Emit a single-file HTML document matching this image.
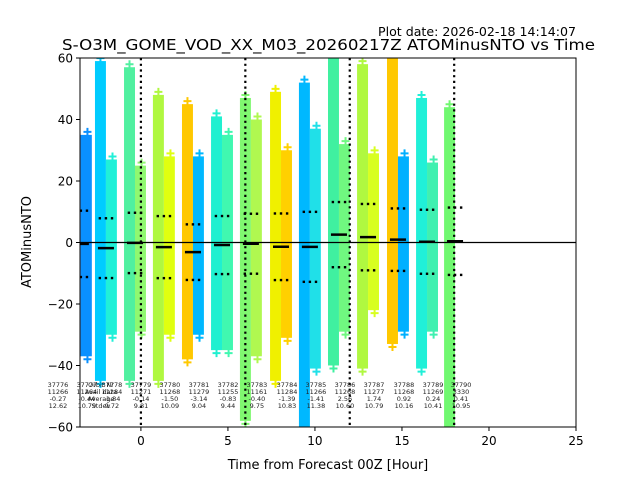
<!DOCTYPE html>
<html><head><meta charset="utf-8"><style>
html,body{margin:0;padding:0;background:#fff;}
svg{display:block;font-family:"DejaVu Sans","Liberation Sans",sans-serif;}
</style></head><body>
<svg id="chart" width="640" height="480" viewBox="0 0 640 480" xmlns="http://www.w3.org/2000/svg">
<defs><clipPath id="plotclip"><rect x="80" y="58" width="496" height="369"/></clipPath></defs>
<rect x="0" y="0" width="640" height="480" fill="#fff"/>
<text x="576" y="36" font-size="12.5" text-anchor="end" textLength="198" lengthAdjust="spacingAndGlyphs">Plot date: 2026-02-18 14:14:07</text>
<text x="62" y="50" font-size="15.5" textLength="533" lengthAdjust="spacingAndGlyphs">S-O3M_GOME_VOD_XX_M03_20260217Z ATOMinusNTO vs Time</text>
<g id="marks" clip-path="url(#plotclip)"></g>
<g id="axes"></g>
<g id="labels"></g>
<text x="328" y="469" font-size="13" text-anchor="middle">Time from Forecast 00Z [Hour]</text>
<text x="31" y="242" font-size="13" text-anchor="middle" transform="rotate(-90 31 242)">ATOMinusNTO</text>
</svg>
<script>
const orbits = ["37776","37777","37778","37779","37780","37781","37782","37783","37784","37785","37786","37787","37788","37789","37790"];
const availData = ["11266","11264","11284","11271","11268","11279","11255","11161","11284","11266","11268","11277","11268","11269","3330"];
const orbitTimes = [-5.11,-3.45,-2.01,-0.34,1.32,2.99,4.66,6.32,8.05,9.71,11.38,13.05,14.77,16.44,18.05];
const averages = [-0.27,-0.44,-1.84,-0.14,-1.50,-3.14,-0.83,-0.40,-1.39,-1.41,2.56,1.74,0.92,0.24,0.41];
const stdevs = [12.62,10.79,9.72,9.81,10.09,9.04,9.44,9.75,10.83,11.38,10.60,10.79,10.16,10.41,10.95];
const leftTop = [30,35,59,57,48,45,41,47,49,52,60,58,60,47,44];
const leftBottom = [-30,-37,-45,-45,-45,-38,-35,-58,-45,-60,-40,-41,-33,-41,-60];
const rightTop = [25,35,27,25,28,28,35,40,30,37,32,29,28,26,0];
const rightBottom = [-25,-37,-30,-29,-30,-30,-35,-37,-31,-41,-29,-22,-29,-29,0];
const leftColors = ["#1070ff","#0a80ff","#00ccff","#50f0a0","#b0f840","#ffc800","#20f0d0","#80f870","#f0f000","#00b8ff","#40f0a0","#b0f840","#ffc800","#20f0d8","#70f870"];
const rightColors = ["#1070ff","#0a90ff","#20f0d8","#90f870","#e0ff10","#00b8ff","#40f8b0","#b0f850","#ffd000","#20e0e8","#70f880","#d8ff20","#00b0ff","#40f0b0","#70f870"];
const xTicks = [0,5,10,15,20,25];
const yTicks = [-60,-40,-20,0,20,40,60];
const forecastLines = [0,6,12,18];

const NS = "http://www.w3.org/2000/svg";
const X0=80, X1=576, Y0=58, Y1=427, XMIN=-3.5, XMAX=25, YMIN=-60, YMAX=60;
function xs(h){return X0+(h-XMIN)*(X1-X0)/(XMAX-XMIN);}
function ys(v){return Y1-(v-YMIN)*(Y1-Y0)/(YMAX-YMIN);}
function mk(tag, attrs, parent){const e=document.createElementNS(NS,tag);for(const k in attrs)e.setAttribute(k,attrs[k]);parent.appendChild(e);return e;}
const marks=document.getElementById('marks'), axes=document.getElementById('axes'), labels=document.getElementById('labels');
const HW=0.63;
function plus(x,y,c){
  const g=mk('path',{d:`M${x-4} ${y}H${x+4}M${x} ${y-4}V${y+4}`,stroke:c,'stroke-width':2,fill:'none'},marks);
  
  
}
orbits.forEach((o,i)=>{
  const t=orbitTimes[i];
  const l=mk('rect',{x:xs(t-HW),y:ys(leftTop[i]),width:xs(t)-xs(t-HW),height:ys(leftBottom[i])-ys(leftTop[i]),fill:leftColors[i]},marks);
  
  
  plus(xs(t-HW*0.5),ys(leftTop[i])-3,leftColors[i]);
  plus(xs(t-HW*0.5),ys(leftBottom[i])+3,leftColors[i]);
  if(rightTop[i]!==rightBottom[i]){
    const r=mk('rect',{x:xs(t),y:ys(rightTop[i]),width:xs(t+HW)-xs(t),height:ys(rightBottom[i])-ys(rightTop[i]),fill:rightColors[i]},marks);
    
    
    plus(xs(t+HW*0.6),ys(rightTop[i])-3,rightColors[i]);
    plus(xs(t+HW*0.6),ys(rightBottom[i])+3,rightColors[i]);
  }
});
const zl=mk('line',{x1:X0,x2:X1,y1:ys(0),y2:ys(0),stroke:'#000','stroke-width':1.3},axes);


orbits.forEach((o,i)=>{
  const t=orbitTimes[i];
  const m=mk('line',{x1:xs(t-0.46),x2:xs(t+0.46),y1:ys(averages[i]),y2:ys(averages[i]),stroke:'#000','stroke-width':2.5},marks);
  
  
  [averages[i]+stdevs[i],averages[i]-stdevs[i]].forEach(v=>{
    [-0.35,0,0.35].forEach(d=>{
      const dt=mk('rect',{x:xs(t+d)-1.2,y:ys(v)-1.2,width:2.4,height:2.4,fill:'#000'},marks);
      
      
    });
  });
});
forecastLines.forEach(h=>{
  const fl=mk('line',{x1:xs(h),x2:xs(h),y1:Y0,y2:Y1,stroke:'#000','stroke-width':2.2,'stroke-dasharray':'2.2 3.5'},axes);
  
  
});
const frame=mk('rect',{x:X0,y:Y0,width:X1-X0,height:Y1-Y0,fill:'none',stroke:'#000','stroke-width':1},axes);


xTicks.forEach(v=>{
  mk('line',{x1:xs(v),x2:xs(v),y1:Y1,y2:Y1+4,stroke:'#000','stroke-width':1},axes);
  const tx=mk('text',{x:xs(v),y:Y1+18,'font-size':12,'text-anchor':'middle'},axes);
  tx.textContent=v;
  
  
});
yTicks.forEach(v=>{
  mk('line',{x1:X0-4,x2:X0,y1:ys(v),y2:ys(v),stroke:'#000','stroke-width':1},axes);
  const ty=mk('text',{x:X0-7,y:ys(v)+4.5,'font-size':12,'text-anchor':'end'},axes);
  ty.textContent=(v<0?'\u2212'+(-v):v);
  
  
});
const rowsY=[387,394,401,408];
orbits.forEach((o,i)=>{
  const cx=xs(orbitTimes[i])+6;
  const vals=[o,availData[i],averages[i].toFixed(2),stdevs[i].toFixed(2)];
  vals.forEach((s,k)=>{
    const t=mk('text',{x:cx,y:rowsY[k],'font-size':6.5,'text-anchor':'middle',fill:'#222'},labels);
    t.textContent=s;
    
    
  });
});
["Orbit Nr","Avail data","Average","Stdev"].forEach((s,k)=>{
  const t=mk('text',{x:101,y:rowsY[k],'font-size':6.5,'text-anchor':'middle',fill:'#222'},labels);
  t.textContent=s;
  
  
});
</script>
</body></html>
